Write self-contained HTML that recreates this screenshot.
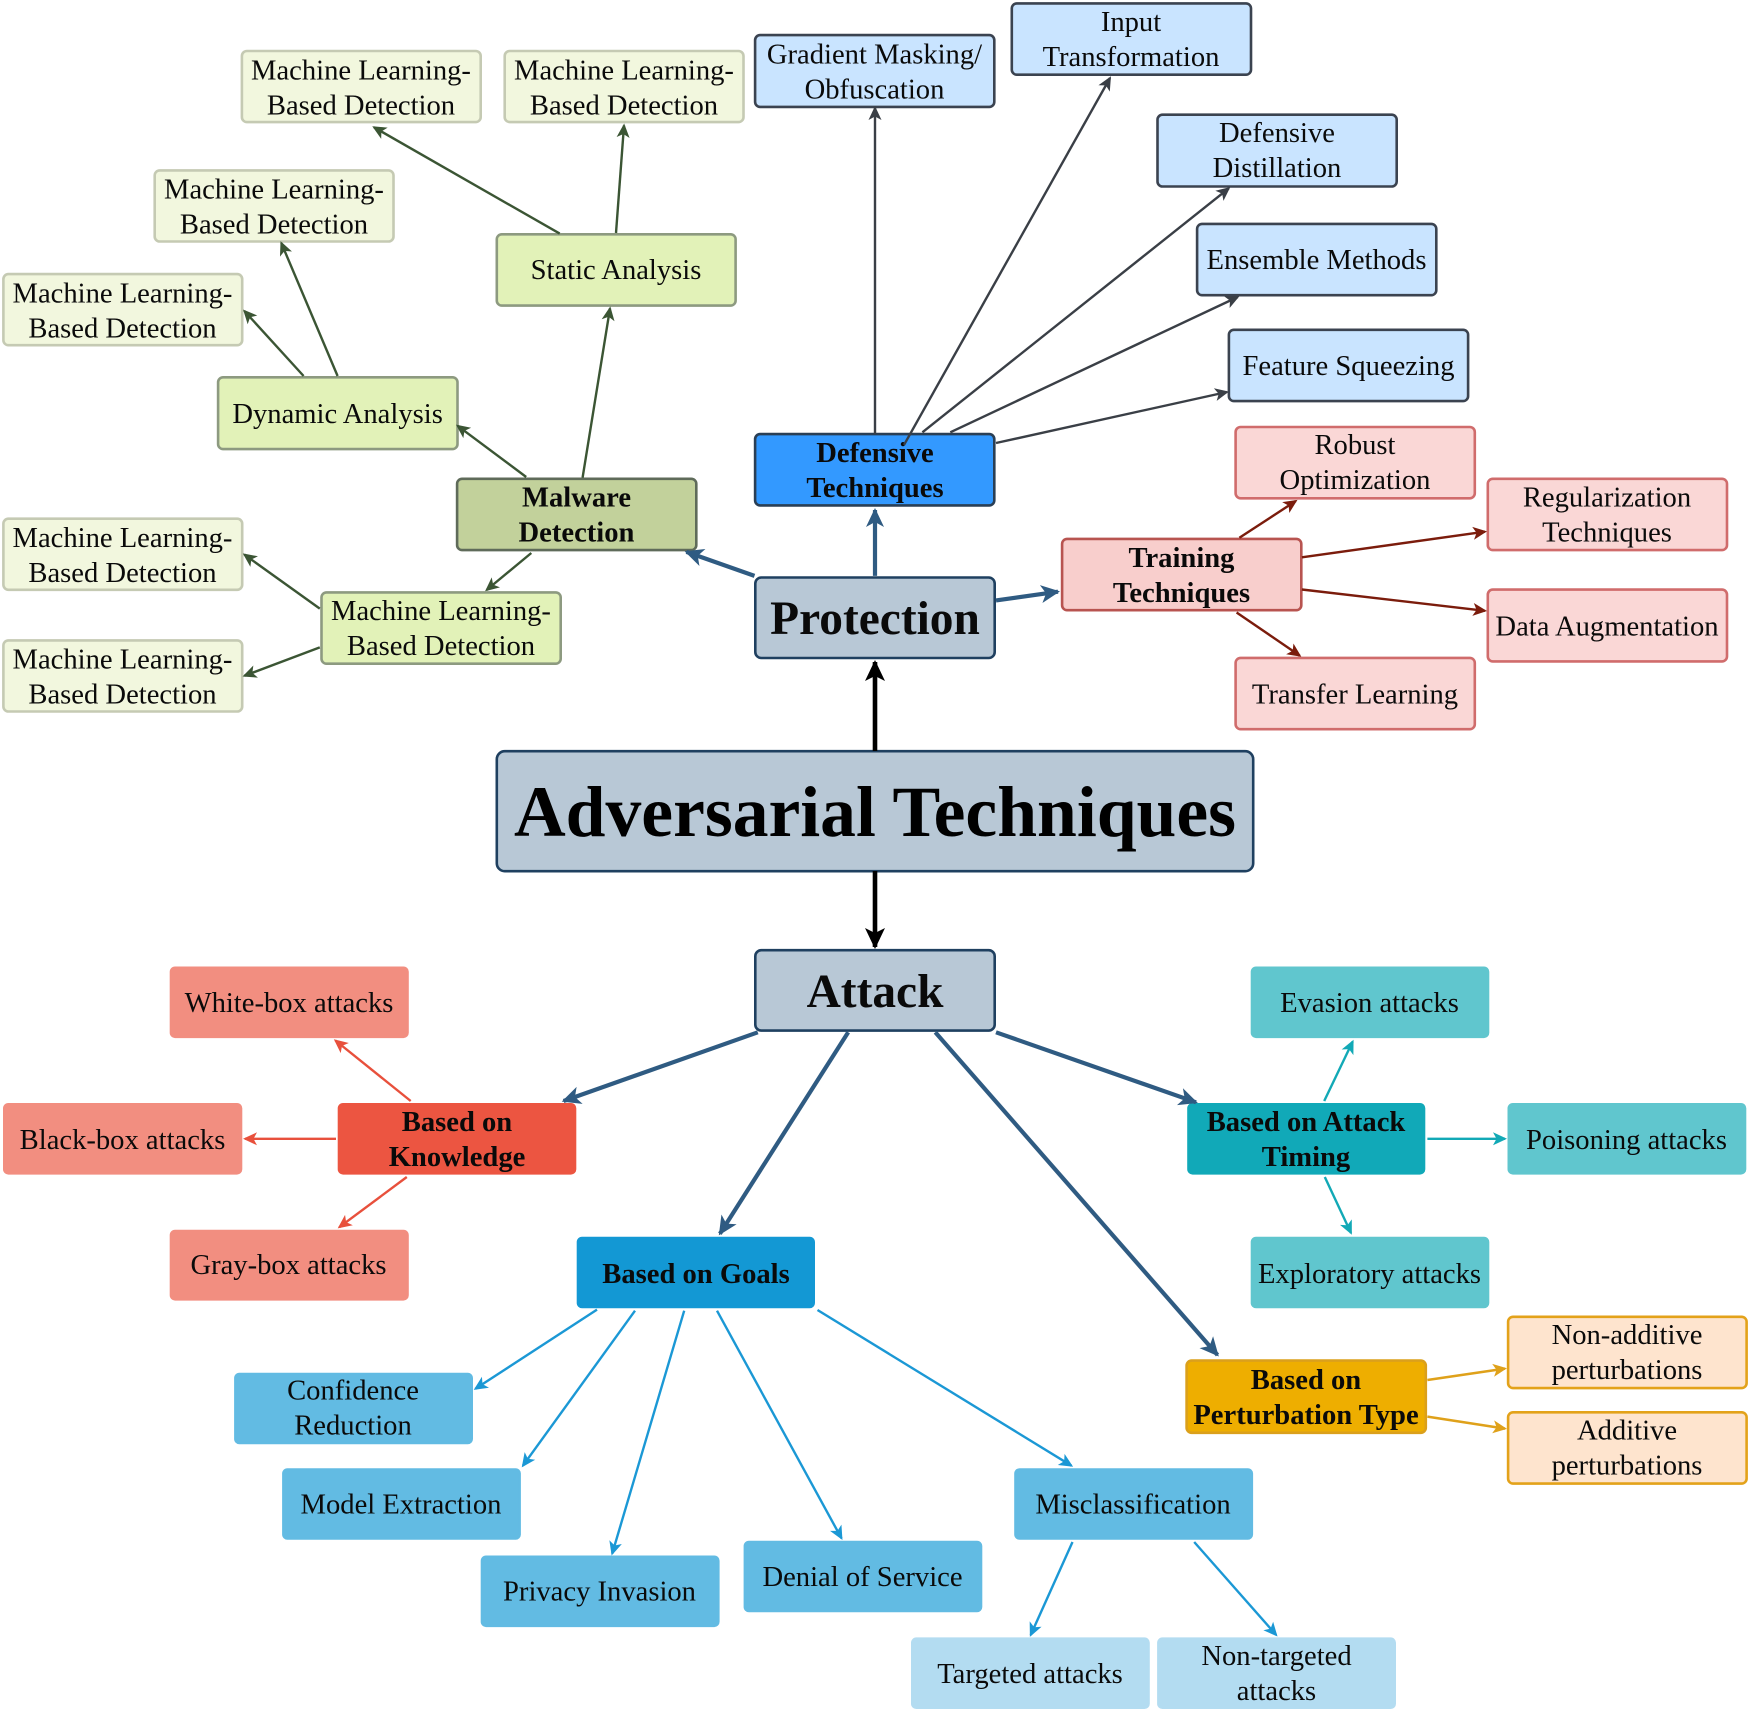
<!DOCTYPE html>
<html><head><meta charset="utf-8"><title>Adversarial Techniques</title>
<style>
html,body{margin:0;padding:0;background:#fff}
svg{display:block}
text{font-family:"Liberation Serif",serif;font-size:28.6px;fill:#0a0a0a;text-anchor:middle}
.b{font-weight:bold}
.big{font-weight:bold;font-size:47.4px}
.title{font-weight:bold;font-size:71.6px;fill:#000}
rect{stroke-width:2.6}
line{fill:none}
.lg rect{fill:#f2f7de;stroke:#c5cab3}
.mg rect{fill:#e2f2b8;stroke:#8d9a80}
.bl rect{fill:#c9e4ff;stroke:#3b4350}
.rd rect{fill:#fad7d6;stroke:#d06c6c}
.co rect{fill:#f28e80;stroke:#f28e80}
.gb rect{fill:#62bbe3;stroke:#62bbe3}
.lb rect{fill:#b3dcf1;stroke:#b3dcf1}
.te rect{fill:#60c6ce;stroke:#60c6ce}
.or rect{fill:#fee4ce;stroke:#e3a21a}
.gr line{stroke:#3b5534;stroke-width:2.4}
.dk line{stroke:#3a3f46;stroke-width:2.4}
.mr line{stroke:#7b1c0c;stroke-width:2.4}
.pb line{stroke:#2f5b82;stroke-width:4.2}
.kb line{stroke:#000;stroke-width:4.6}
.rr line{stroke:#e8503c;stroke-width:2.4}
.sb line{stroke:#1b98d5;stroke-width:2.4}
.tl line{stroke:#12a9b6;stroke-width:2.4}
.ya line{stroke:#dfa11a;stroke-width:2.6}
</style></head>
<body>
<svg width="1750" height="1712" viewBox="0 0 1750 1712" xmlns="http://www.w3.org/2000/svg">
<defs>
<marker id="mGr" markerUnits="userSpaceOnUse" markerWidth="17" markerHeight="15" refX="13" refY="7.5" orient="auto"><path d="M15,7.5 L1,1 L4.5,7.5 L1,14 Z" fill="#3b5534"/></marker>
<marker id="mDk" markerUnits="userSpaceOnUse" markerWidth="17" markerHeight="15" refX="13" refY="7.5" orient="auto"><path d="M15,7.5 L1,1 L4.5,7.5 L1,14 Z" fill="#3a3f46"/></marker>
<marker id="mMr" markerUnits="userSpaceOnUse" markerWidth="17" markerHeight="15" refX="13" refY="7.5" orient="auto"><path d="M15,7.5 L1,1 L4.5,7.5 L1,14 Z" fill="#7b1c0c"/></marker>
<marker id="mRr" markerUnits="userSpaceOnUse" markerWidth="17" markerHeight="15" refX="13" refY="7.5" orient="auto"><path d="M15,7.5 L1,1 L4.5,7.5 L1,14 Z" fill="#e8503c"/></marker>
<marker id="mSb" markerUnits="userSpaceOnUse" markerWidth="17" markerHeight="15" refX="13" refY="7.5" orient="auto"><path d="M15,7.5 L1,1 L4.5,7.5 L1,14 Z" fill="#1b98d5"/></marker>
<marker id="mTl" markerUnits="userSpaceOnUse" markerWidth="17" markerHeight="15" refX="13" refY="7.5" orient="auto"><path d="M15,7.5 L1,1 L4.5,7.5 L1,14 Z" fill="#12a9b6"/></marker>
<marker id="mYa" markerUnits="userSpaceOnUse" markerWidth="17" markerHeight="15" refX="13" refY="7.5" orient="auto"><path d="M15,7.5 L1,1 L4.5,7.5 L1,14 Z" fill="#dfa11a"/></marker>
<marker id="mPb" markerUnits="userSpaceOnUse" markerWidth="22" markerHeight="20" refX="18" refY="10" orient="auto"><path d="M20,10 L1,1 L6,10 L1,19 Z" fill="#2f5b82"/></marker>
<marker id="mKb" markerUnits="userSpaceOnUse" markerWidth="24" markerHeight="22" refX="20" refY="11" orient="auto"><path d="M22,11 L1,1 L6,11 L1,21 Z" fill="#000"/></marker>
</defs>

<!-- Green family -->
<g class="lg">
<rect x="241.9" y="51" width="238.8" height="71.1" rx="5"/><text x="361" y="79.5">Machine Learning-</text><text x="361" y="114.5">Based Detection</text>
<rect x="504.7" y="51" width="238.8" height="71.1" rx="5"/><text x="624" y="79.5">Machine Learning-</text><text x="624" y="114.5">Based Detection</text>
<rect x="154.7" y="170.4" width="238.8" height="71.1" rx="5"/><text x="274" y="198.5">Machine Learning-</text><text x="274" y="233.5">Based Detection</text>
<rect x="3.4" y="274.1" width="238.8" height="71.1" rx="5"/><text x="122.5" y="302.5">Machine Learning-</text><text x="122.5" y="337.5">Based Detection</text>
<rect x="3.4" y="518.7" width="238.8" height="71.1" rx="5"/><text x="122.5" y="547">Machine Learning-</text><text x="122.5" y="582">Based Detection</text>
<rect x="3.4" y="640.4" width="238.8" height="71.1" rx="5"/><text x="122.5" y="668.5">Machine Learning-</text><text x="122.5" y="703.5">Based Detection</text>
</g>
<g class="mg">
<rect x="496.8" y="234.3" width="238.8" height="71.3" rx="5"/><text x="616" y="279">Static Analysis</text>
<rect x="218.1" y="377.3" width="239.4" height="71.8" rx="5"/><text x="337.6" y="423">Dynamic Analysis</text>
<rect x="321.5" y="592.4" width="239.2" height="71.3" rx="5"/><text x="441" y="620">Machine Learning-</text><text x="441" y="655">Based Detection</text>
</g>
<rect x="457.1" y="478.8" width="239.2" height="71.3" rx="5" fill="#c2d19b" stroke="#5f6b5a"/>
<text class="b" x="576.5" y="506.5">Malware</text><text class="b" x="576.5" y="541.5">Detection</text>

<!-- Blue defensive -->
<g class="bl">
<rect x="755.1" y="35.1" width="239.2" height="71.8" rx="5"/><text x="874.5" y="63.5">Gradient Masking/</text><text x="874.5" y="98.5">Obfuscation</text>
<rect x="1011.8" y="3.4" width="239.2" height="71.3" rx="5"/><text x="1131" y="31">Input</text><text x="1131" y="66">Transformation</text>
<rect x="1157.5" y="114.7" width="239.2" height="71.8" rx="5"/><text x="1277" y="142">Defensive</text><text x="1277" y="177">Distillation</text>
<rect x="1197.1" y="223.9" width="239.2" height="71.3" rx="5"/><text x="1316.5" y="269">Ensemble Methods</text>
<rect x="1228.9" y="329.8" width="239.2" height="71.3" rx="5"/><text x="1348.5" y="375">Feature Squeezing</text>
</g>
<rect x="755.1" y="434.1" width="239.2" height="71.3" rx="5" fill="#3399ff" stroke="#2a3f55"/>
<text class="b" x="875" y="462">Defensive</text><text class="b" x="875" y="497">Techniques</text>

<!-- Red training -->
<g class="rd">
<rect x="1235.6" y="427" width="239.2" height="71.3" rx="5"/><text x="1355" y="454">Robust</text><text x="1355" y="489">Optimization</text>
<rect x="1487.8" y="478.8" width="239.2" height="71.3" rx="5"/><text x="1607" y="506.5">Regularization</text><text x="1607" y="541.5">Techniques</text>
<rect x="1487.8" y="589.6" width="239.2" height="71.8" rx="5"/><text x="1607" y="635.5">Data Augmentation</text>
<rect x="1235.6" y="657.9" width="239.2" height="71.3" rx="5"/><text x="1355" y="703.5">Transfer Learning</text>
</g>
<rect x="1062.1" y="538.9" width="239.2" height="71.3" rx="5" fill="#f8cecc" stroke="#b85450"/>
<text class="b" x="1181.5" y="567">Training</text><text class="b" x="1181.5" y="602">Techniques</text>

<!-- Central -->
<rect x="755.3" y="577.5" width="239.4" height="80.5" rx="6" fill="#b8c8d6" stroke="#1f4060"/>
<text class="big" x="875" y="634">Protection</text>
<rect x="496.8" y="751.2" width="756.4" height="120" rx="8" fill="#b8c8d6" stroke="#1f4060"/>
<text class="title" x="875" y="836">Adversarial Techniques</text>
<rect x="755.3" y="950.2" width="239.4" height="80.4" rx="6" fill="#b8c8d6" stroke="#1f4060"/>
<text class="big" x="875" y="1007">Attack</text>

<!-- Knowledge -->
<g class="co">
<rect x="171" y="967.8" width="236.5" height="69" rx="4"/><text x="289" y="1012">White-box attacks</text>
<rect x="4.3" y="1104.3" width="236.7" height="69" rx="4"/><text x="122.5" y="1149">Black-box attacks</text>
<rect x="171" y="1231" width="236.5" height="68.3" rx="4"/><text x="288.5" y="1274">Gray-box attacks</text>
</g>
<rect x="339" y="1104.3" width="236" height="69" rx="4" fill="#ec5541" stroke="#ec5541"/>
<text class="b" x="457" y="1131">Based on</text><text class="b" x="457" y="1166">Knowledge</text>

<!-- Goals -->
<rect x="578" y="1238" width="235.7" height="69" rx="4" fill="#1398d4" stroke="#1398d4"/>
<text class="b" x="696" y="1283">Based on Goals</text>
<g class="gb">
<rect x="235.4" y="1374" width="236.3" height="69" rx="4"/><text x="353" y="1399.5">Confidence</text><text x="353" y="1434.5">Reduction</text>
<rect x="283.4" y="1469.5" width="236.2" height="69" rx="4"/><text x="401" y="1513.5">Model Extraction</text>
<rect x="482" y="1556.8" width="236.3" height="69" rx="4"/><text x="599.5" y="1600.5">Privacy Invasion</text>
<rect x="744.9" y="1542" width="236.1" height="69" rx="4"/><text x="862.5" y="1586">Denial of Service</text>
<rect x="1015.5" y="1469.5" width="236.3" height="69" rx="4"/><text x="1133" y="1513.5">Misclassification</text>
</g>
<g class="lb">
<rect x="912.3" y="1638.7" width="236.2" height="69" rx="4"/><text x="1030" y="1683">Targeted attacks</text>
<rect x="1158.4" y="1638.7" width="236.3" height="69" rx="4"/><text x="1276.5" y="1665">Non-targeted</text><text x="1276.5" y="1700">attacks</text>
</g>

<!-- Timing -->
<rect x="1188.5" y="1104.3" width="235.5" height="69" rx="4" fill="#11a9b8" stroke="#11a9b8"/>
<text class="b" x="1306" y="1131">Based on Attack</text><text class="b" x="1306" y="1166">Timing</text>
<g class="te">
<rect x="1252" y="967.8" width="236" height="69" rx="4"/><text x="1369.5" y="1012">Evasion attacks</text>
<rect x="1508.8" y="1104.3" width="236.2" height="69" rx="4"/><text x="1626.5" y="1149">Poisoning attacks</text>
<rect x="1252" y="1238" width="236" height="69" rx="4"/><text x="1369.5" y="1283">Exploratory attacks</text>
</g>

<!-- Perturbation -->
<rect x="1186.6" y="1360.6" width="239.2" height="72.2" rx="5" fill="#eeae00" stroke="#dba01b"/>
<text class="b" x="1306" y="1389">Based on</text><text class="b" x="1306" y="1424">Perturbation Type</text>
<g class="or">
<rect x="1508.1" y="1316.8" width="238.5" height="71.3" rx="5"/><text x="1627" y="1344">Non-additive</text><text x="1627" y="1379">perturbations</text>
<rect x="1508.1" y="1412.3" width="238.5" height="71.3" rx="5"/><text x="1627" y="1439.5">Additive</text><text x="1627" y="1474.5">perturbations</text>
</g>

<!-- Connectors -->
<g class="gr">
<line x1="559.7" y1="233.6" x2="374" y2="127.3" marker-end="url(#mGr)"/>
<line x1="616" y1="233" x2="624" y2="125.5" marker-end="url(#mGr)"/>
<line x1="337.6" y1="376" x2="281.3" y2="243" marker-end="url(#mGr)"/>
<line x1="303.6" y1="376" x2="244.4" y2="311" marker-end="url(#mGr)"/>
<line x1="526.2" y1="477" x2="457.6" y2="425.8" marker-end="url(#mGr)"/>
<line x1="582.6" y1="477.6" x2="610" y2="308.4" marker-end="url(#mGr)"/>
<line x1="531.3" y1="553" x2="486.6" y2="590" marker-end="url(#mGr)"/>
<line x1="319.8" y1="608.6" x2="244.4" y2="554.6" marker-end="url(#mGr)"/>
<line x1="319.8" y1="647.4" x2="244.4" y2="675.8" marker-end="url(#mGr)"/>
</g>
<g class="dk">
<line x1="875" y1="434" x2="875" y2="108" marker-end="url(#mDk)"/>
<line x1="904" y1="444.9" x2="1110" y2="78" marker-end="url(#mDk)"/>
<line x1="922.4" y1="432.3" x2="1228.8" y2="188.3" marker-end="url(#mDk)"/>
<line x1="950.3" y1="432.3" x2="1237.7" y2="297" marker-end="url(#mDk)"/>
<line x1="996" y1="443" x2="1227" y2="392" marker-end="url(#mDk)"/>
</g>
<g class="mr">
<line x1="1239.4" y1="537.7" x2="1295.8" y2="501" marker-end="url(#mMr)"/>
<line x1="1301.9" y1="557.3" x2="1485" y2="531.7" marker-end="url(#mMr)"/>
<line x1="1301.9" y1="589.5" x2="1485" y2="610.8" marker-end="url(#mMr)"/>
<line x1="1236.6" y1="612.5" x2="1299.7" y2="655.6" marker-end="url(#mMr)"/>
</g>
<g class="pb">
<line x1="754.5" y1="575.9" x2="686.4" y2="551.9" marker-end="url(#mPb)"/>
<line x1="875" y1="575.9" x2="875" y2="510" marker-end="url(#mPb)"/>
<line x1="996" y1="600.4" x2="1058" y2="591.7" marker-end="url(#mPb)"/>
<line x1="757.8" y1="1032.3" x2="563.6" y2="1101" marker-end="url(#mPb)"/>
<line x1="848.2" y1="1032.3" x2="719.9" y2="1233.7" marker-end="url(#mPb)"/>
<line x1="935.3" y1="1032.3" x2="1217.5" y2="1355" marker-end="url(#mPb)"/>
<line x1="996" y1="1032.3" x2="1196" y2="1102.3" marker-end="url(#mPb)"/>
</g>
<g class="kb">
<line x1="875" y1="751" x2="875" y2="662" marker-end="url(#mKb)"/>
<line x1="875" y1="871" x2="875" y2="947" marker-end="url(#mKb)"/>
</g>
<g class="rr">
<line x1="410.7" y1="1101" x2="335.4" y2="1040.5" marker-end="url(#mRr)"/>
<line x1="336" y1="1138.8" x2="245" y2="1138.8" marker-end="url(#mRr)"/>
<line x1="406.8" y1="1177" x2="339.3" y2="1227.2" marker-end="url(#mRr)"/>
</g>
<g class="sb">
<line x1="597" y1="1309.6" x2="475.4" y2="1388.8" marker-end="url(#mSb)"/>
<line x1="635" y1="1310.7" x2="522.9" y2="1465.7" marker-end="url(#mSb)"/>
<line x1="684.2" y1="1310.7" x2="612.2" y2="1553.6" marker-end="url(#mSb)"/>
<line x1="717" y1="1310.7" x2="841.5" y2="1538.3" marker-end="url(#mSb)"/>
<line x1="817.5" y1="1310" x2="1071.4" y2="1465.7" marker-end="url(#mSb)"/>
<line x1="1072.5" y1="1542" x2="1030.7" y2="1635" marker-end="url(#mSb)"/>
<line x1="1194.2" y1="1542" x2="1276.2" y2="1635" marker-end="url(#mSb)"/>
</g>
<g class="tl">
<line x1="1324.2" y1="1101" x2="1352.7" y2="1041.5" marker-end="url(#mTl)"/>
<line x1="1427.4" y1="1138.8" x2="1505" y2="1138.8" marker-end="url(#mTl)"/>
<line x1="1324.8" y1="1177" x2="1351" y2="1233" marker-end="url(#mTl)"/>
</g>
<g class="ya">
<line x1="1427.4" y1="1380" x2="1505" y2="1368.6" marker-end="url(#mYa)"/>
<line x1="1427.4" y1="1416.6" x2="1505" y2="1428.6" marker-end="url(#mYa)"/>
</g>
</svg>
</body></html>
